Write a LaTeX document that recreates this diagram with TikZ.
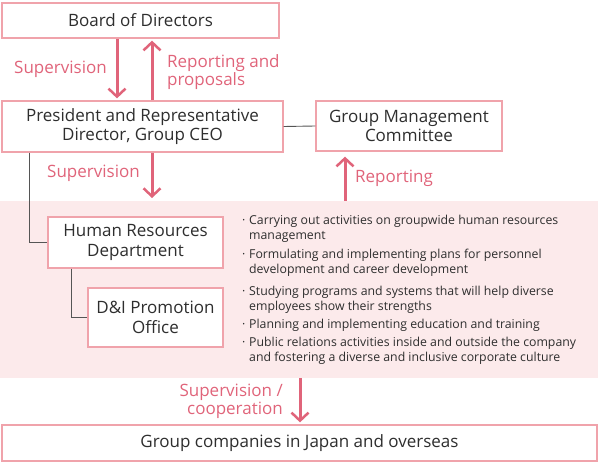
\documentclass[tikz,border=0pt]{standalone}
\usepackage{fontspec}
\setmainfont{Open Sans}
\usetikzlibrary{arrows.meta}
\definecolor{boxline}{HTML}{F0A3AB}
\definecolor{arr}{HTML}{E0647A}
\definecolor{bg}{HTML}{FCEAEB}
\definecolor{txt}{HTML}{2E2E2E}
\definecolor{conn}{HTML}{555555}
\newcommand\myb{\makebox[7pt][l]{·}}
\newcommand\myc{\hspace*{7pt}}
\begin{document}
\begin{tikzpicture}[x=1pt,y=-1pt,
  orgbox/.style={draw=boxline, line width=1.3pt, fill=white, text=txt, align=center, inner sep=0pt,
    font=\fontsize{17}{19.5}\selectfont},
  flow/.style={draw=arr, line width=3pt, -{Straight Barb[length=8pt,width=17pt,line width=2.5pt]}},
  lbl/.style={text=arr, font=\fontsize{17}{18}\selectfont, inner sep=0pt},
  link/.style={draw=conn, line width=0.9pt},
  bul/.style={text=txt, font=\fontsize{12.3}{14.5}\selectfont, inner sep=0pt, align=left, anchor=north west}]
\useasboundingbox (0,0) rectangle (600,465);
\fill[bg] (0,201) rectangle (598,378);
\coordinate (bgtop) at (0,201);
\coordinate (bgbot) at (0,378);
% boxes
\node[orgbox, minimum width=277pt, minimum height=35pt] (board) at (140.5,20.5) {Board of Directors};
\node[orgbox, minimum width=281pt, minimum height=51pt] (pres) at (142.5,126.5) {President and Representative\\Director, Group CEO};
\node[orgbox, minimum width=186pt, minimum height=50pt] (gmc) at (409,126) {Group Management\\Committee};
\node[orgbox, minimum width=175pt, minimum height=51pt] (hr) at (135.5,242.5) {Human Resources\\Department};
\node[orgbox, minimum width=135pt, minimum height=59pt] (di) at (155.5,317.5) {D\&I Promotion\\Office};
\node[orgbox, minimum width=595pt, minimum height=36pt] (group) at (299.5,443) {Group companies in Japan and overseas};
% gray links
\draw[link] (pres.east) -- (gmc.west);
\draw[link] (29,0 |- pres.south) |- (hr.west);
\draw[link] (71,0 |- hr.south) |- (di.west);
% flows
\draw[flow, shorten >=2pt] (117,0 |- board.south) -- (117,0 |- pres.north);
\draw[flow, shorten >=2pt] (152,0 |- pres.north) -- (152,0 |- board.south);
\draw[flow, shorten >=3pt] (152,0 |- pres.south) -- (152,0 |- bgtop);
\draw[flow, shorten >=5pt] (345,0 |- bgtop) -- (345,0 |- gmc.south);
\draw[flow, shorten >=2pt] (300,0 |- bgbot) -- (300,0 |- group.north);
% labels
\node[lbl, anchor=west] (l1) at (14,69) {Supervision};
\node[lbl, anchor=north west, align=left] (l2) at (167,54) {Reporting and\\proposals};
\node[lbl, anchor=west] (l3) at (47,173) {Supervision};
\node[lbl, anchor=west] (l4) at (355,178) {Reporting};
\node[lbl, anchor=east, align=right] (l5) at (283,401) {Supervision /\\cooperation};
% bullets
\node[bul] (b1) at (242,215) {\myb Carrying out activities on groupwide human resources\\\myc management};
\node[bul] (b2) at (242,249) {\myb Formulating and implementing plans for personnel\\\myc development and career development};
\node[bul] (b3) at (242,286) {\myb Studying programs and systems that will help diverse\\\myc employees show their strengths};
\node[bul] (b4) at (242,319) {\myb Planning and implementing education and training};
\node[bul] (b5) at (242,337) {\myb Public relations activities inside and outside the company\\\myc and fostering a diverse and inclusive corporate culture};
\end{tikzpicture}
\end{document}
